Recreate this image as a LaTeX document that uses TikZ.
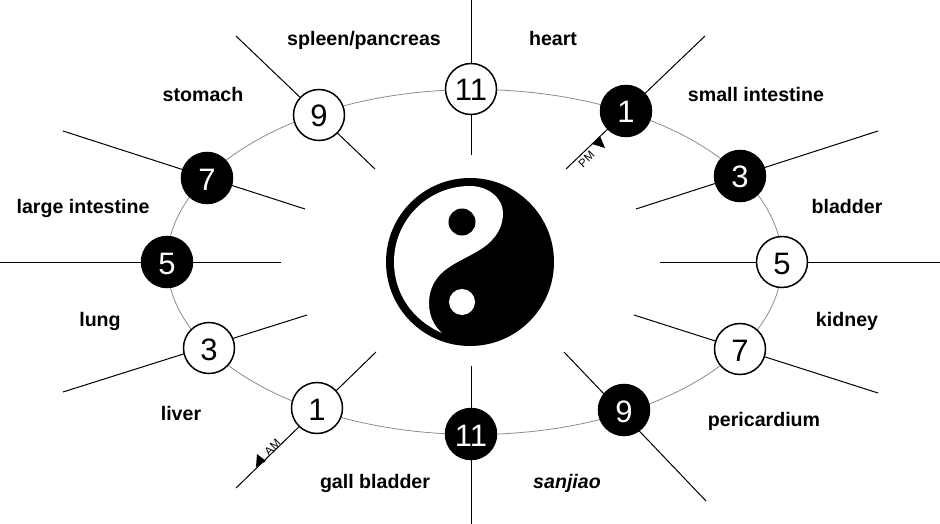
\documentclass[tikz,border=0pt]{standalone}
\usepackage{fontspec}
\setmainfont{Liberation Sans}
\begin{document}
\begin{tikzpicture}[x=1pt,y=-1pt,
  numw/.style={circle,draw=black,line width=1.5pt,fill=white,text=black,minimum size=51pt,inner sep=0pt,text height=24pt,text depth=0pt,font=\fontsize{31}{31}\selectfont},
  numb/.style={circle,draw=black,line width=1.5pt,fill=black,text=white,minimum size=51pt,inner sep=0pt,text height=24pt,text depth=0pt,font=\fontsize{31}{31}\selectfont},
  organ/.style={font=\fontsize{19.6}{22}\selectfont\bfseries,inner sep=0pt,text=black,text height=14pt,text depth=4pt},
  spoke/.style={draw=black,line width=1pt},
  orbit/.style={draw=black!45,line width=0.8pt},
  tiny/.style={font=\fontsize{11.5}{12}\selectfont,inner sep=0pt,rotate=45,text=black}]
\useasboundingbox (0,0) rectangle (940,524);
\fill[white] (0,0) rectangle (940,524);
% orbit
\coordinate (orbitc) at (474.5,262);
\draw[orbit] (orbitc) ellipse [x radius=307.5,y radius=172.5];
% spoke ends
\coordinate (t11a) at (471,0);     \coordinate (t11b) at (471,155);
\coordinate (b1a) at (705,36);     \coordinate (b1b) at (566,169);
\coordinate (b3a) at (878,131);    \coordinate (b3b) at (636,209);
\coordinate (w5a) at (940,262);    \coordinate (w5b) at (660,262);
\coordinate (w7a) at (878,393);    \coordinate (w7b) at (634,315);
\coordinate (b9a) at (706,501);    \coordinate (b9b) at (564,352);
\coordinate (b11a) at (471,524);   \coordinate (b11b) at (471,366);
\coordinate (w1a) at (236,488);    \coordinate (w1b) at (376,352);
\coordinate (w3a) at (63,392);     \coordinate (w3b) at (307,315);
\coordinate (b5a) at (0,262);      \coordinate (b5b) at (281,262);
\coordinate (b7a) at (63,131);     \coordinate (b7b) at (305,209);
\coordinate (w9a) at (236,36);     \coordinate (w9b) at (375,169);
\foreach \s in {t11,b1,b3,w5,w7,b9,b11,w1,w3,b5,b7,w9}
  \draw[spoke] (\s a) -- (\s b);
% numbered nodes
\node[numw] (n11t) at (471,89) {11};
\node[numw] (n9w) at (319,115) {9};
\node[numw] (n3w) at (209,348) {3};
\node[numw] (n1w) at (317,408) {1};
\node[numw] (n5w) at (782,262) {5};
\node[numw] (n7w) at (740,349) {7};
\node[numb] (n1b) at (626,111) {1};
\node[numb] (n3b) at (740,176) {3};
\node[numb] (n5b) at (167,262) {5};
\node[numb] (n7b) at (207,178) {7};
\node[numb] (n9b) at (624,410) {9};
\node[numb] (n11b) at (471,434) {11};
% organ labels
\node[organ] (heart) at (553,40.5) {heart};
\node[organ] (spleen) at (364,40.5) {spleen/pancreas};
\node[organ] (small) at (756,96.5) {small intestine};
\node[organ] (stomach) at (203,96.5) {stomach};
\node[organ] (bladder) at (847,208.5) {bladder};
\node[organ] (large) at (83,208.5) {large intestine};
\node[organ] (kidney) at (847,321) {kidney};
\node[organ] (lung) at (100,321) {lung};
\node[organ] (peri) at (764,421) {pericardium};
\node[organ] (liver) at (181,415) {liver};
\node[organ,font=\fontsize{19.6}{22}\selectfont\bfseries\itshape] (sanjiao) at (567,483) {sanjiao};
\node[organ] (gall) at (375,483) {gall bladder};
% AM / PM
\fill[black] (592,144) -- (600,136) -- (605,148) -- cycle;
\node[tiny] (pm) at (586.5,159.5) {PM};
\fill[black] (257,454) -- (266,461) -- (256,467) -- cycle;
\node[tiny] (am) at (272.5,447.5) {AM};
% yin-yang
\fill[black] (470,262) circle [radius=84];
\fill[white] (442,333)
  .. controls (412,320) and (394,293) .. (394,262)
  .. controls (394,220) and (428,186) .. (470,186)
  .. controls (488,186) and (503,198) .. (503,213)
  .. controls (503,232) and (490,244) .. (478,251)
  .. controls (466,258) and (458,261) .. (448,268)
  .. controls (436,276) and (429,288) .. (429,303)
  .. controls (429,316) and (434,326) .. (442,333) -- cycle;
\fill[black] (462,222) circle [radius=13.5];
\fill[white] (462,302) circle [radius=13];
\end{tikzpicture}
\end{document}
